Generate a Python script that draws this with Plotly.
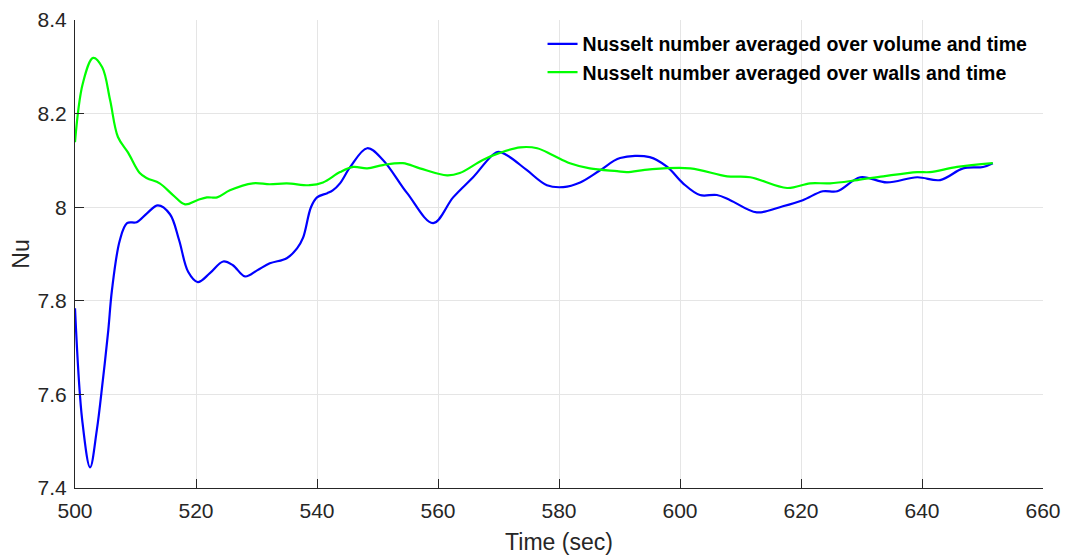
import plotly.graph_objects as go

# Time samples (sec) and Nusselt number averaged over volume and time
t_vol = [500.0, 501.2, 502.5, 503.6, 504.6, 505.5, 506.1, 507.4, 508.6, 510.2,
         511.9, 513.7, 515.7, 517.2, 518.7, 520.3, 522.3, 524.5, 526.1, 528.1,
         530.1, 532.2, 535.0, 536.7, 537.7, 539.0, 540.0, 541.7, 542.6, 543.8,
         545.5, 548.3, 550.9, 554.9, 559.2, 562.5, 565.8, 569.8, 571.4, 574.7,
         578.0, 580.7, 583.5, 586.8, 590.1, 595.0, 597.9, 600.5, 603.3, 606.1,
         608.3, 612.7, 617.0, 620.3, 623.6, 626.0, 629.8, 634.2, 639.2, 643.0,
         646.8, 650.1, 651.7]
nu_vol = [7.784, 7.544, 7.444, 7.523, 7.630, 7.737, 7.822, 7.929, 7.966, 7.968,
          7.987, 8.004, 7.985, 7.930, 7.862, 7.840, 7.859, 7.884, 7.876, 7.852,
          7.865, 7.880, 7.891, 7.912, 7.935, 8.000, 8.021, 8.030, 8.036, 8.051,
          8.086, 8.126, 8.101, 8.030, 7.966, 8.021, 8.064, 8.118, 8.111, 8.079,
          8.047, 8.043, 8.053, 8.079, 8.105, 8.107, 8.086, 8.051, 8.026, 8.026,
          8.015, 7.989, 8.002, 8.015, 8.034, 8.034, 8.064, 8.053, 8.064, 8.058,
          8.083, 8.086, 8.094]

# Time samples (sec) and Nusselt number averaged over walls and time
t_wall = [500.0, 501.3, 503.0, 504.5, 505.8, 507.1, 508.8, 510.7, 511.9, 514.0,
          516.2, 518.2, 520.2, 521.8, 523.5, 525.6, 529.4, 532.2, 535.0, 538.8,
          541.0, 543.8, 546.0, 548.3, 550.9, 554.2, 557.0, 561.5, 563.6, 567.4,
          570.2, 573.6, 576.4, 579.0, 581.8, 585.1, 589.6, 591.2, 595.0, 601.7,
          607.8, 611.6, 617.7, 621.5, 624.8, 629.3, 633.6, 639.2, 641.3, 645.8,
          651.7]
nu_wall = [8.139, 8.265, 8.319, 8.299, 8.229, 8.150, 8.116, 8.073, 8.062, 8.051,
           8.026, 8.006, 8.015, 8.021, 8.021, 8.036, 8.051, 8.049, 8.051, 8.047,
           8.053, 8.075, 8.086, 8.083, 8.090, 8.094, 8.083, 8.068, 8.073, 8.101,
           8.116, 8.128, 8.126, 8.111, 8.094, 8.083, 8.077, 8.075, 8.081, 8.083,
           8.066, 8.064, 8.041, 8.051, 8.051, 8.058, 8.066, 8.075, 8.075, 8.086,
           8.094]

x_ticks = [500, 520, 540, 560, 580, 600, 620, 640, 660]
y_ticks = [7.4, 7.6, 7.8, 8.0, 8.2, 8.4]
y_tick_text = ["7.4", "7.6", "7.8", "8", "8.2", "8.4"]

FONT = "Liberation Sans, Arial, Helvetica, sans-serif"
AXIS_COLOR = "#262626"
GRID_COLOR = "#e5e5e5"

fig = go.Figure()
fig.add_trace(go.Scatter(
    x=t_vol, y=nu_vol, mode="lines",
    line=dict(color="#0000ff", width=2.2, shape="spline", smoothing=1.0),
    name="Nusselt number averaged over volume and time",
))
fig.add_trace(go.Scatter(
    x=t_wall, y=nu_wall, mode="lines",
    line=dict(color="#00ff00", width=2.2, shape="spline", smoothing=1.0),
    name="Nusselt number averaged over walls and time",
))

axis_common = dict(
    showline=True, linecolor=AXIS_COLOR, linewidth=1,
    ticks="inside", ticklen=9, tickcolor=AXIS_COLOR, tickwidth=1,
    showgrid=True, gridcolor=GRID_COLOR, gridwidth=1,
    zeroline=False, mirror=False, automargin=False,
    tickfont=dict(family=FONT, size=21, color=AXIS_COLOR),
)

fig.update_xaxes(
    range=[500, 660], tickvals=x_ticks, ticklabelstandoff=4,
    title=dict(text="Time (sec)", font=dict(family=FONT, size=23, color=AXIS_COLOR), standoff=12),
    **axis_common,
)
fig.update_yaxes(
    range=[7.4, 8.4], tickvals=y_ticks, ticktext=y_tick_text, ticklabelstandoff=3,
    title=dict(text="Nu", font=dict(family=FONT, size=23, color=AXIS_COLOR), standoff=1),
    **axis_common,
)

fig.update_layout(
    width=1066, height=555,
    margin=dict(l=75, r=23, t=20, b=67),
    plot_bgcolor="white", paper_bgcolor="white",
    font=dict(family=FONT),
    showlegend=True,
    legend=dict(
        x=0.483, y=0.99, xanchor="left", yanchor="top",
        bgcolor="rgba(0,0,0,0)", borderwidth=0,
        font=dict(family=FONT, size=19.5, color="black", weight="bold"),
        tracegroupgap=0, itemwidth=30,
    ),
)

fig.write_html("out.html")
